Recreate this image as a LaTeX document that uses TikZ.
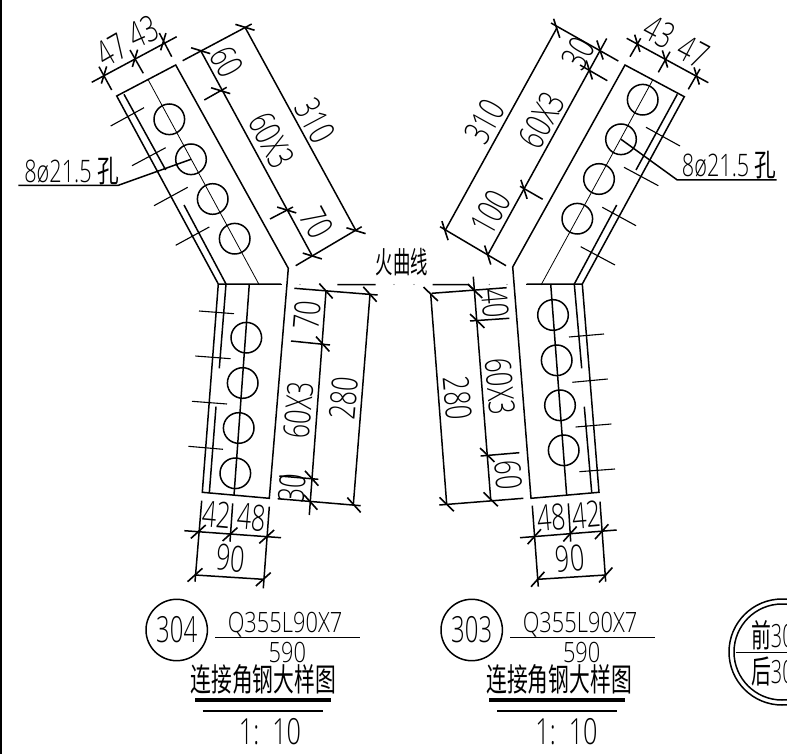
\documentclass[tikz,border=0pt]{standalone}
\usepackage{fontspec}
\setmainfont{Open Sans}[UprightFont=* Light]
\newfontfamily\cjk{Noto Sans CJK SC}
\tikzset{
 x=1pt,y=-1pt,
 ln/.style={line width=1.5pt,black},
 thn/.style={line width=0.8pt,black},
 thk/.style={line width=4pt,black},
 tk/.style={line width=1.6pt,black},
 dl/.style={inner sep=0pt,font=\fontsize{36}{36}\selectfont,xscale=.70},
 sl/.style={inner sep=0pt,font=\fontsize{31}{31}\selectfont,xscale=.70},
 tl/.style={inner sep=0pt,font=\fontsize{28}{28}\selectfont,xscale=.78},
 cl/.style={inner sep=0pt,font=\cjk\fontsize{32}{32}\selectfont,xscale=.65},
 hole/.style={circle,draw,line width=1.5pt,minimum size=30.6pt,inner sep=0pt},
}
\newcommand\dlab[5]{\node[rotate=#4,dl] (#1) at (#2,#3) {#5};}
\newcommand\tick[4][10]{\draw[tk,shift={(#2,#3)},rotate=#4] (-#1,0) -- (#1,0);}
\begin{document}
\begin{tikzpicture}
\useasboundingbox (0,0) rectangle (787,754);
\clip (0,0) rectangle (787,754);
\draw[line width=2.5pt] (1,0) -- (1,754);
% ---------- upper left plate
\draw[ln] (218.3,284) -- (116.7,96) -- (175.7,65) -- (288.3,268.3) -- (269.3,498.3) -- (202.3,492.3) -- (218.3,284) -- (281,284);
\draw[ln] (124,94.3) -- (165.7,170);
\draw[ln] (184,205) -- (226,284) -- (219.3,368.3);
\draw[ln] (216,406.7) -- (209.3,493.3);
\draw[thn] (148.3,80) -- (259.3,285);
\draw[ln] (249.3,284) -- (234,495.3);
\node[hole] (h1) at (169.3,119.3) {};
\node[hole] (h2) at (191,159.3) {};
\node[hole] (h3) at (212.7,199) {};
\node[hole] (h4) at (234.7,238.7) {};
\node[hole] (h5) at (246.3,337.7) {};
\node[hole] (h6) at (242.7,383) {};
\node[hole] (h7) at (238.7,428) {};
\node[hole] (h8) at (235.3,473.3) {};
\draw[thn,line width=1.1pt] (110.7,126)--(144,107.7) (132,165.7)--(165.7,147.7) (154,205.7)--(187.7,187.3) (175.7,245.3)--(209.3,227);
\draw[thn,line width=1.1pt] (199,311)--(234,313.7) (195.3,356)--(230.7,358.7) (192,401.3)--(227,404) (188.3,446.3)--(223,449.3);
\draw[ln] (18.3,185.3) -- (118.3,185.3) -- (h2.center);
\node[sl] (t1) at (71.7,171) {8ø21.5 {\cjk 孔}};
% dims upper left
\draw[ln] (91.7,82.3) -- (176.7,36.7);
\draw[ln] (99,66.7)--(111.7,90) (130,50)--(143.3,73.3) (159.3,33)--(171.7,56.7);
\tick[9]{104}{75}{73} \tick[9]{135}{58.3}{73} \tick[9]{163.3}{41.7}{73}
\dlab{a47}{111.7}{50}{30}{47}
\dlab{a43}{143.3}{32}{24}{43}
\draw[ln] (182.7,60.7) -- (251.7,24);
\draw[ln] (245,27.3) -- (356,230.7);
\draw[ln] (200.7,50.7) -- (312.3,256);
\draw[ln] (295.7,265.7) -- (361.7,226.7);
\draw[ln] (204.3,100) -- (226.7,87.3);
\draw[ln] (270,219) -- (293,207);
\foreach \p/\q in {245/27.3,200.7/50.7,220.7/90.7,286.7/210,312.3/256,356/230.7}{\tick{\p}{\q}{-17}}
\dlab{a60}{226.7}{61.7}{-62}{60}
\dlab{a603}{271.7}{140}{-62}{60X3}
\dlab{a70}{316.7}{222.7}{-62}{70}
\dlab{a310}{315}{120.7}{-62}{310}
% dims lower left
\draw[ln] (294.3,288.3) -- (377.7,295);
\draw[ln] (370,294.3) -- (353.3,505);
\draw[ln] (326,291) -- (309.3,515);
\draw[ln] (291,341) -- (330,345);
\draw[ln] (279.3,476) -- (318.3,479.3);
\draw[ln] (277.7,498.7) -- (360.7,505.7);
\foreach \p/\q in {326/291,370/294.3,322.7/344,311.7/478.3,310.7/502.3,354/505}{\tick{\p}{\q}{-48}}
\dlab{b70}{306.7}{315}{85}{70}
\dlab{b603}{298.3}{410}{85}{60X3}
\dlab{b280}{343.3}{398.3}{85}{280}
\dlab{b30}{291.7}{488.3}{85}{30}
\draw[ln] (201.7,500.7)--(195,581.7) (232.7,503.3)--(230,541.7) (269.3,506.7)--(263.3,588.3);
\draw[ln] (184.3,530.7)--(281,537.7);
\draw[ln] (195,575)--(263.3,579.3);
\foreach \p/\q in {198.3/531.7,230/534.3,266.7/536.7,195/575,263.3/579.3}{\tick{\p}{\q}{42}}
\dlab{c42}{216.7}{515}{-5}{42}
\dlab{c48}{251.7}{517.3}{-5}{48}
\dlab{c90}{230.7}{558.3}{-5}{90}
% ---------- right plate
\draw[ln] (582.3,284) -- (684.3,96.7) -- (625,65) -- (512.7,267) -- (531,498.3) -- (599,492.3) -- (582.3,284) -- (526.7,284);
\draw[ln] (677.3,94.3) -- (636,170);
\draw[ln] (616.7,205) -- (574.3,284) -- (581.7,368.3);
\draw[ln] (584.3,406.7) -- (591.7,492.3);
\draw[thn] (652.7,80) -- (541,285);
\draw[ln] (550.7,284) -- (566.7,495.7);
\node[hole] (r1) at (642.7,99.7) {};
\node[hole] (r2) at (621,139.3) {};
\node[hole] (r3) at (599,179) {};
\node[hole] (r4) at (577.3,218.7) {};
\node[hole] (r5) at (553,315) {};
\node[hole] (r6) at (556.7,360.3) {};
\node[hole] (r7) at (560,405.3) {};
\node[hole] (r8) at (563.7,450.3) {};
\draw[thn,line width=1.1pt] (646,127.3)--(680,146) (624,167.3)--(658.3,185.7) (602.3,207.3)--(636,225.7) (580.7,246.7)--(615,265);
\draw[thn,line width=1.1pt] (569,337)--(604,334) (572.3,382.3)--(607.7,379) (575.7,427)--(611.3,424) (579.3,471.7)--(615,469);
\draw[ln] (r2.center) -- (677.3,180) -- (776.7,180);
\node[sl] (t2) at (729.3,165) {8ø21.5 {\cjk 孔}};
% dims upper right
\draw[ln] (626.7,38.3) -- (708.3,82.7);
\draw[ln] (630,56.7)--(640.7,38.3) (658.3,72.3)--(670,51.7) (688.3,89.3)--(700,69);
\tick[9]{637.3}{43.3}{107} \tick[9]{665}{59}{107} \tick[9]{696.7}{76}{107}
\dlab{d43}{659.3}{32.3}{-28}{43}
\dlab{d47}{693.3}{51.7}{-28}{47}
\draw[ln] (551,23) -- (618.3,61);
\draw[ln] (556.7,28.3) -- (445,230.7);
\draw[ln] (606.7,38.5) -- (487.7,255);
\draw[ln] (440,226.7) -- (506,265.7);
\draw[ln] (580,65) -- (607.3,80.7);
\draw[ln] (520,186.3) -- (542.7,199.3);
\foreach \p/\q in {556.7/28.3,600/50,589.3/70,524/189.3,445/230.7,487.7/255}{\tick{\p}{\q}{-72}}
\dlab{d310}{485}{121.7}{61}{310}
\dlab{d603}{541.7}{120}{61}{60X3}
\dlab{d30}{578.3}{53.3}{61}{30}
\dlab{d100}{490.7}{212.3}{61}{100}
% dims lower right
\draw[ln] (431.7,293.3) -- (506.7,287.7);
\draw[ln] (430.7,294) -- (446.7,504.3);
\draw[ln] (473.3,276.7) -- (490.7,499.3);
\draw[ln] (470,321) -- (509.3,318.3);
\draw[ln] (480.7,456) -- (519.3,452.7);
\draw[ln] (439.3,505) -- (523.3,498.3);
\foreach \p/\q in {430.7/294,475/291,477.3/321,487.3/455,446.7/504.3,490.7/499.3}{\tick{\p}{\q}{-44}}
\dlab{e40}{495}{303.3}{-85}{40}
\dlab{e603}{500}{386.7}{-85}{60X3}
\dlab{e280}{457.3}{398.3}{-85}{280}
\dlab{e60}{508.3}{475}{-85}{60}
\draw[ln] (532.3,505.7)--(538.3,586.7) (568.3,503.3)--(570.7,541.7) (600,501.7)--(605.7,581.7);
\draw[ln] (520,537.7)--(616.7,530);
\draw[ln] (537.7,579.3)--(605.7,575);
\foreach \p/\q in {534.3/536.7,570/534,601.7/531.7,537.7/579.3,605.7/575}{\tick{\p}{\q}{48}}
\dlab{f48}{551.7}{517.3}{5}{48}
\dlab{f42}{586.7}{515}{5}{42}
\dlab{f90}{570}{558.3}{5}{90}
% ---------- fold line
\draw[ln] (337.3,284.5)--(375.7,284.5) (432.7,284.5)--(468.3,284.5)--(475,291);
\draw[ln] (280,284.5)--(282,284.5) (526,284.5)--(530,284.5);
\foreach \p in {300,394,414,489.3,507}{\fill[black!60] (\p,284.5) circle (0.6pt);}
\node[inner sep=0pt,font=\cjk\fontsize{30}{30}\selectfont,xscale=.58] (fold) at (402,262) {火曲线};
% ---------- titles
\node[circle,draw,line width=1.5pt,minimum size=61.4pt,inner sep=0pt] (c304) at (176.7,630) {};
\node[dl,xscale=.95] (n304) at (c304.center) {304};
\draw[ln] (215,637.7) -- (360,637.7);
\node[tl] (q304) at (285,624.5) {Q355L90X7};
\node[tl] (m304) at (287.3,652) {590};
\node[cl] (z304) at (263.3,679.3) {连接角钢大样图};
\draw[thk] (195,700) -- (331,700);
\draw[ln] (202.7,711) -- (322.7,711);
\node[dl] (s304) at (270,732) {1:\ \ 10};
\node[circle,draw,line width=1.5pt,minimum size=61.4pt,inner sep=0pt] (c303) at (471.7,630) {};
\node[dl,xscale=.95] (n303) at (c303.center) {303};
\draw[ln] (510,637.7) -- (655,637.7);
\node[tl] (q303) at (580,624.5) {Q355L90X7};
\node[tl] (m303) at (581.7,652) {590};
\node[cl] (z303) at (559,679.3) {连接角钢大样图};
\draw[thk] (489.3,700) -- (625,700);
\draw[ln] (497.3,711) -- (617.3,711);
\node[dl] (s303) at (566.5,732) {1:\ \ 10};
% ---------- cut circle
\draw[ln] (782,652) circle (53);
\draw[ln] (782,652) circle (48);
\draw[ln] (735.7,652.3) -- (787,652.3);
\node[inner sep=0pt,anchor=west,font=\fontsize{32}{32}\selectfont,xscale=.62] (qian) at (751,635) {{\cjk 前}30};
\node[inner sep=0pt,anchor=west,font=\fontsize{32}{32}\selectfont,xscale=.62] (hou) at (751,671) {{\cjk 后}30};
\end{tikzpicture}
\end{document}
